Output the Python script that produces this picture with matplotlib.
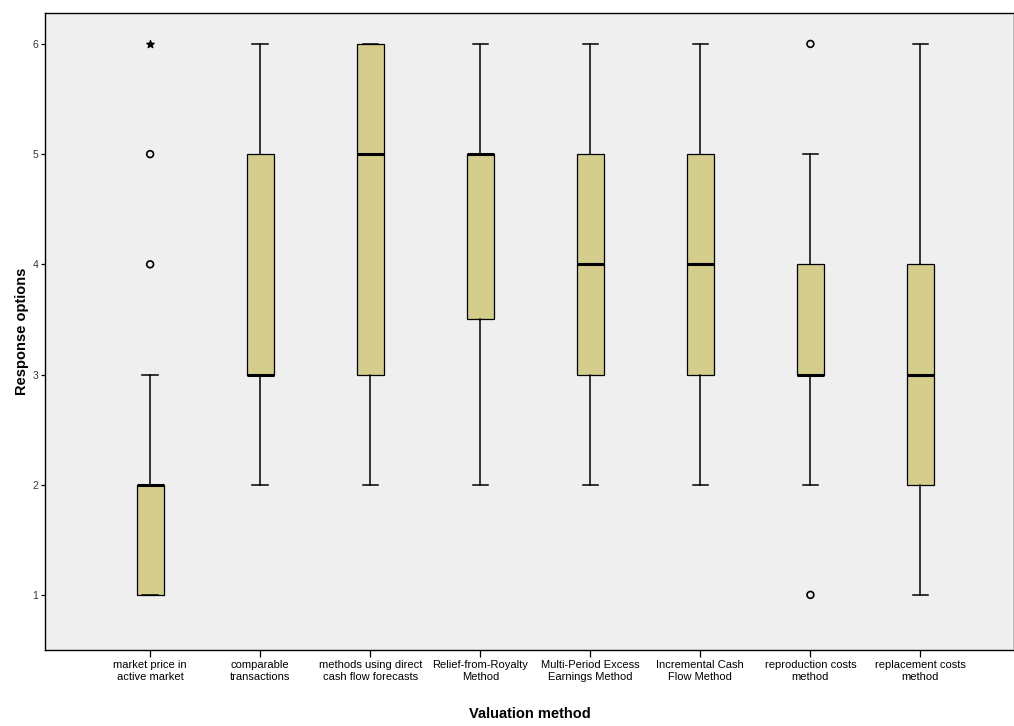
import matplotlib.pyplot as plt

plt.rcParams["font.family"] = ["Liberation Sans", "DejaVu Sans"]

methods = ["market price in\nactive market", "comparable\ntransactions",
           "methods using direct\ncash flow forecasts", "Relief-from-Royalty\nMethod",
           "Multi-Period Excess\nEarnings Method", "Incremental Cash\nFlow Method",
           "reproduction costs\nmethod", "replacement costs\nmethod"]
q1 = [1, 3, 3, 3.5, 3, 3, 3, 2]
med = [2, 3, 5, 5, 4, 4, 3, 3]
q3 = [2, 5, 6, 5, 5, 5, 4, 4]
whislo = [1, 2, 2, 2, 2, 2, 2, 1]
whishi = [3, 6, 6, 6, 6, 6, 5, 6]
outliers = [[4, 5], [], [], [], [], [], [6, 1], []]
extremes = [[6], [], [], [], [], [], [], []]

stats = []
for i in range(len(methods)):
    stats.append(dict(q1=q1[i], med=med[i], q3=q3[i], whislo=whislo[i],
                      whishi=whishi[i], fliers=[]))

fig = plt.figure(figsize=(10.14, 7.26), dpi=100)
fig.patch.set_facecolor("white")
ax = fig.add_axes([0.0444, 0.1047, 0.9556, 0.8773])
ax.set_facecolor("#efefef")

pos = list(range(len(methods)))
ax.bxp(stats, positions=pos, widths=0.245, patch_artist=True, showfliers=False,
       boxprops=dict(facecolor="#d4cd8c", edgecolor="black", linewidth=0.9),
       medianprops=dict(color="black", linewidth=2.2),
       whiskerprops=dict(color="black", linewidth=1.1),
       capprops=dict(color="black", linewidth=1.1), capwidths=0.14)

for i in pos:
    if outliers[i]:
        ax.scatter([i] * len(outliers[i]), outliers[i], marker="o", s=24,
                   facecolors="none", edgecolors="black", linewidths=1.2, zorder=3)
    if extremes[i]:
        ax.scatter([i] * len(extremes[i]), extremes[i], marker="*", s=30,
                   color="black", zorder=3)

ax.set_xlim(-0.955, 7.85)
ax.set_ylim(0.5, 6.28)
ax.set_xticks(pos)
ax.set_xticklabels(methods, fontsize=8, linespacing=1.3)
ax.set_yticks([1, 2, 3, 4, 5, 6])
ax.set_yticklabels(["1", "2", "3", "4", "5", "6"], fontsize=7.5, color="#333333")
ax.tick_params(axis="x", length=5, width=0.9, pad=2)
ax.tick_params(axis="y", length=3, width=0.9, pad=2)
for s in ax.spines.values():
    s.set_linewidth(1.0)

ax.set_ylabel("Response options", fontsize=10.5, fontweight="bold", labelpad=2)
ax.set_xlabel("Valuation method", fontsize=10.5, fontweight="bold", labelpad=18)

fig.savefig("out.png", dpi=100)
